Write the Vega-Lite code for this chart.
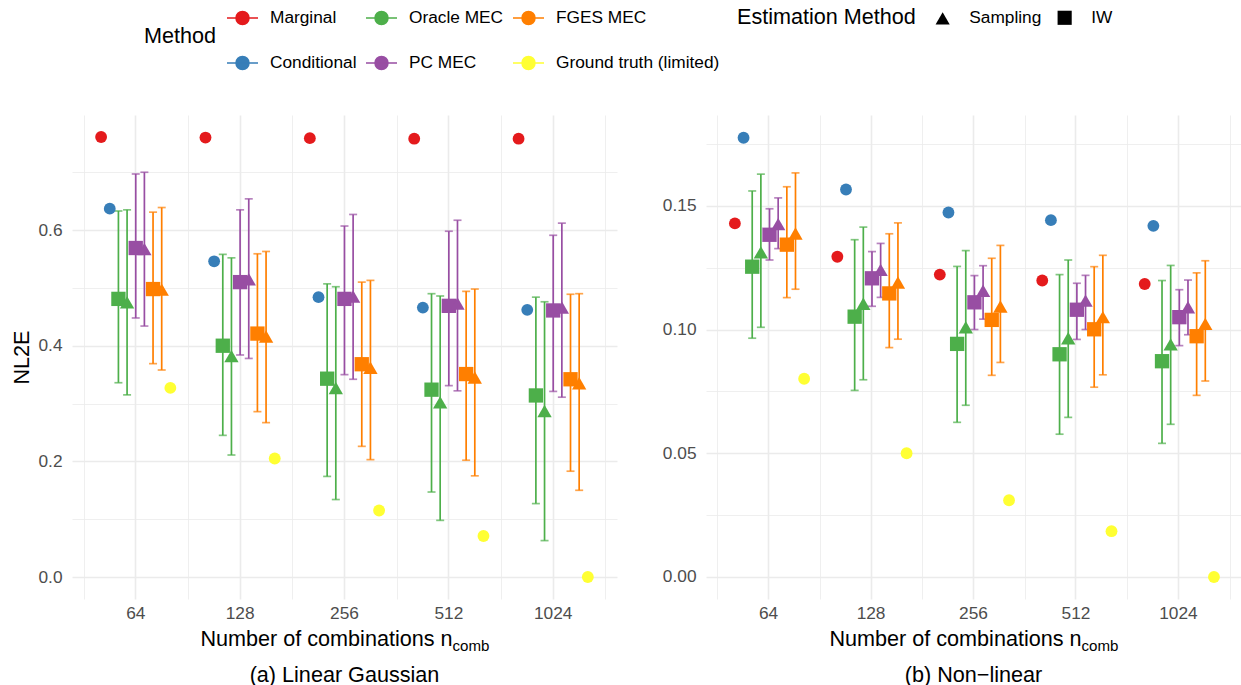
{
  "$schema": "https://vega.github.io/schema/vega-lite/v6.json",
  "padding": {"left": 11, "top": 1, "right": 0, "bottom": 0},
  "spacing": 45,
  "config": {
    "font": "Liberation Sans",
    "view": {"stroke": null},
    "axis": {"domain": false, "ticks": false, "gridColor": "#EBEBEB", "labelColor": "#4D4D4D", "labelFontSize": 17.3, "titleFontSize": 21.6, "titleFontWeight": "normal", "titleColor": "#000000"},
    "legend": {"labelFontSize": 17.3, "labelColor": "#000000", "titleFontSize": 21.6, "titleFontWeight": "normal", "titleColor": "#000000", "labelLimit": 400},
    "title": {"fontSize": 21.6, "fontWeight": "normal", "color": "#000000"}
  },
  "data": {"values": [
    {"setting":"lg","n":64,"method":"Marginal","series":"Marginal","value":0.761},
    {"setting":"lg","n":64,"method":"Conditional","series":"Conditional","value":0.637},
    {"setting":"lg","n":64,"method":"Oracle MEC","estimation":"IW","series":"Oracle MEC IW","value":0.481,"lower":0.336,"upper":0.633},
    {"setting":"lg","n":64,"method":"Oracle MEC","estimation":"Sampling","series":"Oracle MEC Sampling","value":0.475,"lower":0.315,"upper":0.635},
    {"setting":"lg","n":64,"method":"PC MEC","estimation":"IW","series":"PC MEC IW","value":0.569,"lower":0.448,"upper":0.697},
    {"setting":"lg","n":64,"method":"PC MEC","estimation":"Sampling","series":"PC MEC Sampling","value":0.567,"lower":0.434,"upper":0.700},
    {"setting":"lg","n":64,"method":"FGES MEC","estimation":"IW","series":"FGES MEC IW","value":0.498,"lower":0.369,"upper":0.631},
    {"setting":"lg","n":64,"method":"FGES MEC","estimation":"Sampling","series":"FGES MEC Sampling","value":0.497,"lower":0.358,"upper":0.639},
    {"setting":"lg","n":64,"method":"Ground truth (limited)","series":"Ground truth (limited)","value":0.327},
    {"setting":"lg","n":128,"method":"Marginal","series":"Marginal","value":0.760},
    {"setting":"lg","n":128,"method":"Conditional","series":"Conditional","value":0.546},
    {"setting":"lg","n":128,"method":"Oracle MEC","estimation":"IW","series":"Oracle MEC IW","value":0.400,"lower":0.245,"upper":0.558},
    {"setting":"lg","n":128,"method":"Oracle MEC","estimation":"Sampling","series":"Oracle MEC Sampling","value":0.382,"lower":0.211,"upper":0.552},
    {"setting":"lg","n":128,"method":"PC MEC","estimation":"IW","series":"PC MEC IW","value":0.510,"lower":0.384,"upper":0.635},
    {"setting":"lg","n":128,"method":"PC MEC","estimation":"Sampling","series":"PC MEC Sampling","value":0.515,"lower":0.378,"upper":0.654},
    {"setting":"lg","n":128,"method":"FGES MEC","estimation":"IW","series":"FGES MEC IW","value":0.421,"lower":0.286,"upper":0.559},
    {"setting":"lg","n":128,"method":"FGES MEC","estimation":"Sampling","series":"FGES MEC Sampling","value":0.416,"lower":0.267,"upper":0.563},
    {"setting":"lg","n":128,"method":"Ground truth (limited)","series":"Ground truth (limited)","value":0.205},
    {"setting":"lg","n":256,"method":"Marginal","series":"Marginal","value":0.759},
    {"setting":"lg","n":256,"method":"Conditional","series":"Conditional","value":0.484},
    {"setting":"lg","n":256,"method":"Oracle MEC","estimation":"IW","series":"Oracle MEC IW","value":0.343,"lower":0.174,"upper":0.507},
    {"setting":"lg","n":256,"method":"Oracle MEC","estimation":"Sampling","series":"Oracle MEC Sampling","value":0.327,"lower":0.134,"upper":0.502},
    {"setting":"lg","n":256,"method":"PC MEC","estimation":"IW","series":"PC MEC IW","value":0.481,"lower":0.350,"upper":0.607},
    {"setting":"lg","n":256,"method":"PC MEC","estimation":"Sampling","series":"PC MEC Sampling","value":0.485,"lower":0.342,"upper":0.627},
    {"setting":"lg","n":256,"method":"FGES MEC","estimation":"IW","series":"FGES MEC IW","value":0.368,"lower":0.226,"upper":0.510},
    {"setting":"lg","n":256,"method":"FGES MEC","estimation":"Sampling","series":"FGES MEC Sampling","value":0.362,"lower":0.203,"upper":0.513},
    {"setting":"lg","n":256,"method":"Ground truth (limited)","series":"Ground truth (limited)","value":0.115},
    {"setting":"lg","n":512,"method":"Marginal","series":"Marginal","value":0.758},
    {"setting":"lg","n":512,"method":"Conditional","series":"Conditional","value":0.466},
    {"setting":"lg","n":512,"method":"Oracle MEC","estimation":"IW","series":"Oracle MEC IW","value":0.324,"lower":0.147,"upper":0.490},
    {"setting":"lg","n":512,"method":"Oracle MEC","estimation":"Sampling","series":"Oracle MEC Sampling","value":0.302,"lower":0.098,"upper":0.486},
    {"setting":"lg","n":512,"method":"PC MEC","estimation":"IW","series":"PC MEC IW","value":0.469,"lower":0.331,"upper":0.598},
    {"setting":"lg","n":512,"method":"PC MEC","estimation":"Sampling","series":"PC MEC Sampling","value":0.473,"lower":0.322,"upper":0.617},
    {"setting":"lg","n":512,"method":"FGES MEC","estimation":"IW","series":"FGES MEC IW","value":0.351,"lower":0.202,"upper":0.494},
    {"setting":"lg","n":512,"method":"FGES MEC","estimation":"Sampling","series":"FGES MEC Sampling","value":0.345,"lower":0.175,"upper":0.498},
    {"setting":"lg","n":512,"method":"Ground truth (limited)","series":"Ground truth (limited)","value":0.071},
    {"setting":"lg","n":1024,"method":"Marginal","series":"Marginal","value":0.758},
    {"setting":"lg","n":1024,"method":"Conditional","series":"Conditional","value":0.462},
    {"setting":"lg","n":1024,"method":"Oracle MEC","estimation":"IW","series":"Oracle MEC IW","value":0.314,"lower":0.127,"upper":0.484},
    {"setting":"lg","n":1024,"method":"Oracle MEC","estimation":"Sampling","series":"Oracle MEC Sampling","value":0.287,"lower":0.063,"upper":0.476},
    {"setting":"lg","n":1024,"method":"PC MEC","estimation":"IW","series":"PC MEC IW","value":0.461,"lower":0.321,"upper":0.591},
    {"setting":"lg","n":1024,"method":"PC MEC","estimation":"Sampling","series":"PC MEC Sampling","value":0.466,"lower":0.311,"upper":0.612},
    {"setting":"lg","n":1024,"method":"FGES MEC","estimation":"IW","series":"FGES MEC IW","value":0.342,"lower":0.183,"upper":0.489},
    {"setting":"lg","n":1024,"method":"FGES MEC","estimation":"Sampling","series":"FGES MEC Sampling","value":0.335,"lower":0.150,"upper":0.490},
    {"setting":"lg","n":1024,"method":"Ground truth (limited)","series":"Ground truth (limited)","value":0.000},
    {"setting":"nl","n":64,"method":"Marginal","series":"Marginal","value":0.1429},
    {"setting":"nl","n":64,"method":"Conditional","series":"Conditional","value":0.1775},
    {"setting":"nl","n":64,"method":"Oracle MEC","estimation":"IW","series":"Oracle MEC IW","value":0.1254,"lower":0.0965,"upper":0.156},
    {"setting":"nl","n":64,"method":"Oracle MEC","estimation":"Sampling","series":"Oracle MEC Sampling","value":0.1312,"lower":0.1009,"upper":0.1628},
    {"setting":"nl","n":64,"method":"PC MEC","estimation":"IW","series":"PC MEC IW","value":0.1383,"lower":0.1281,"upper":0.1488},
    {"setting":"nl","n":64,"method":"PC MEC","estimation":"Sampling","series":"PC MEC Sampling","value":0.1426,"lower":0.1327,"upper":0.1532},
    {"setting":"nl","n":64,"method":"FGES MEC","estimation":"IW","series":"FGES MEC IW","value":0.1343,"lower":0.1129,"upper":0.1577},
    {"setting":"nl","n":64,"method":"FGES MEC","estimation":"Sampling","series":"FGES MEC Sampling","value":0.1388,"lower":0.1163,"upper":0.1633},
    {"setting":"nl","n":64,"method":"Ground truth (limited)","series":"Ground truth (limited)","value":0.0801},
    {"setting":"nl","n":128,"method":"Marginal","series":"Marginal","value":0.1294},
    {"setting":"nl","n":128,"method":"Conditional","series":"Conditional","value":0.1566},
    {"setting":"nl","n":128,"method":"Oracle MEC","estimation":"IW","series":"Oracle MEC IW","value":0.1052,"lower":0.0754,"upper":0.1363},
    {"setting":"nl","n":128,"method":"Oracle MEC","estimation":"Sampling","series":"Oracle MEC Sampling","value":0.1104,"lower":0.0797,"upper":0.1414},
    {"setting":"nl","n":128,"method":"PC MEC","estimation":"IW","series":"PC MEC IW","value":0.1207,"lower":0.1094,"upper":0.1315},
    {"setting":"nl","n":128,"method":"PC MEC","estimation":"Sampling","series":"PC MEC Sampling","value":0.1241,"lower":0.113,"upper":0.1348},
    {"setting":"nl","n":128,"method":"FGES MEC","estimation":"IW","series":"FGES MEC IW","value":0.1146,"lower":0.0927,"upper":0.1387},
    {"setting":"nl","n":128,"method":"FGES MEC","estimation":"Sampling","series":"FGES MEC Sampling","value":0.119,"lower":0.0961,"upper":0.1431},
    {"setting":"nl","n":128,"method":"Ground truth (limited)","series":"Ground truth (limited)","value":0.050},
    {"setting":"nl","n":256,"method":"Marginal","series":"Marginal","value":0.1222},
    {"setting":"nl","n":256,"method":"Conditional","series":"Conditional","value":0.1473},
    {"setting":"nl","n":256,"method":"Oracle MEC","estimation":"IW","series":"Oracle MEC IW","value":0.0942,"lower":0.0625,"upper":0.1255},
    {"setting":"nl","n":256,"method":"Oracle MEC","estimation":"Sampling","series":"Oracle MEC Sampling","value":0.1009,"lower":0.0694,"upper":0.1319},
    {"setting":"nl","n":256,"method":"PC MEC","estimation":"IW","series":"PC MEC IW","value":0.111,"lower":0.100,"upper":0.1218},
    {"setting":"nl","n":256,"method":"PC MEC","estimation":"Sampling","series":"PC MEC Sampling","value":0.1157,"lower":0.1042,"upper":0.1258},
    {"setting":"nl","n":256,"method":"FGES MEC","estimation":"IW","series":"FGES MEC IW","value":0.1039,"lower":0.0815,"upper":0.1288},
    {"setting":"nl","n":256,"method":"FGES MEC","estimation":"Sampling","series":"FGES MEC Sampling","value":0.1093,"lower":0.0867,"upper":0.134},
    {"setting":"nl","n":256,"method":"Ground truth (limited)","series":"Ground truth (limited)","value":0.031},
    {"setting":"nl","n":512,"method":"Marginal","series":"Marginal","value":0.1198},
    {"setting":"nl","n":512,"method":"Conditional","series":"Conditional","value":0.1442},
    {"setting":"nl","n":512,"method":"Oracle MEC","estimation":"IW","series":"Oracle MEC IW","value":0.090,"lower":0.0577,"upper":0.1222},
    {"setting":"nl","n":512,"method":"Oracle MEC","estimation":"Sampling","series":"Oracle MEC Sampling","value":0.0965,"lower":0.0645,"upper":0.1281},
    {"setting":"nl","n":512,"method":"PC MEC","estimation":"IW","series":"PC MEC IW","value":0.108,"lower":0.096,"upper":0.1187},
    {"setting":"nl","n":512,"method":"PC MEC","estimation":"Sampling","series":"PC MEC Sampling","value":0.1117,"lower":0.100,"upper":0.1219},
    {"setting":"nl","n":512,"method":"FGES MEC","estimation":"IW","series":"FGES MEC IW","value":0.1001,"lower":0.0767,"upper":0.1254},
    {"setting":"nl","n":512,"method":"FGES MEC","estimation":"Sampling","series":"FGES MEC Sampling","value":0.105,"lower":0.0817,"upper":0.130},
    {"setting":"nl","n":512,"method":"Ground truth (limited)","series":"Ground truth (limited)","value":0.0185},
    {"setting":"nl","n":1024,"method":"Marginal","series":"Marginal","value":0.1184},
    {"setting":"nl","n":1024,"method":"Conditional","series":"Conditional","value":0.1419},
    {"setting":"nl","n":1024,"method":"Oracle MEC","estimation":"IW","series":"Oracle MEC IW","value":0.0872,"lower":0.054,"upper":0.1198},
    {"setting":"nl","n":1024,"method":"Oracle MEC","estimation":"Sampling","series":"Oracle MEC Sampling","value":0.094,"lower":0.0617,"upper":0.1259},
    {"setting":"nl","n":1024,"method":"PC MEC","estimation":"IW","series":"PC MEC IW","value":0.105,"lower":0.0935,"upper":0.1161},
    {"setting":"nl","n":1024,"method":"PC MEC","estimation":"Sampling","series":"PC MEC Sampling","value":0.109,"lower":0.0979,"upper":0.12},
    {"setting":"nl","n":1024,"method":"FGES MEC","estimation":"IW","series":"FGES MEC IW","value":0.0973,"lower":0.0734,"upper":0.1229},
    {"setting":"nl","n":1024,"method":"FGES MEC","estimation":"Sampling","series":"FGES MEC Sampling","value":0.1023,"lower":0.0792,"upper":0.1278},
    {"setting":"nl","n":1024,"method":"Ground truth (limited)","series":"Ground truth (limited)","value":0.000}
  ]},
  "hconcat": [
    {
      "width": 545, "height": 484,
      "transform": [{"filter": "datum.setting === 'lg'"}],
      "title": {"text": "(a) Linear Gaussian", "orient": "bottom", "frame": "group", "anchor": "middle", "offset": 12},
      "encoding": {
        "xOffset": {"field": "series", "type": "nominal", "scale": {"domain": ["Marginal","Conditional","Oracle MEC IW","Oracle MEC Sampling","PC MEC IW","PC MEC Sampling","FGES MEC IW","FGES MEC Sampling","Ground truth (limited)"], "paddingInner": 0, "paddingOuter": 0, "range": [13.2, 91.1]}},
        "color": {"field": "method", "type": "nominal", "scale": {"domain": ["Marginal","Oracle MEC","FGES MEC","Conditional","PC MEC","Ground truth (limited)"], "range": ["#E41A1C","#4DAF4A","#FF7F00","#377EB8","#984EA3","#FFFF33"]}, "legend": {"title": "Method", "orient": "none", "legendX": 72, "legendY": -114, "titleOrient": "left", "titleAnchor": "middle", "titleBaseline": "middle", "titlePadding": 9, "columns": 3, "direction": "horizontal", "symbolType": "M-1,0L1,0M0.42,0A0.42,0.42,0,1,1,-0.42,0A0.42,0.42,0,1,1,0.42,0Z", "symbolSize": 961, "symbolStrokeWidth": 1.5, "labelOffset": 11, "columnPadding": 6, "rowPadding": 18.5, "encode": {"symbols": {"update": {"shape": {"value": "M-1,0L1,0M0.42,0A0.42,0.42,0,1,1,-0.42,0A0.42,0.42,0,1,1,0.42,0Z"}, "size": {"value": 961}, "fill": {"scale": "color", "field": "value"}, "stroke": {"scale": "color", "field": "value"}, "strokeWidth": {"value": 1.5}, "opacity": {"value": 1}}}}}}
      },
      "layer": [
        {
          "transform": [{"filter": "datum.upper != null"}],
          "mark": {"type": "rule", "strokeWidth": 1.7},
          "encoding": {
            "x": {"field": "n", "type": "ordinal", "title": "Number of combinations n", "scale": {"paddingInner": 0, "paddingOuter": 0.111}, "axis": {"grid": true, "gridWidth": 1.6, "tickBand": "center", "labelPadding": 5, "labelAngle": 0, "titleX": 128, "titleY": 46, "titleAlign": "left", "titleBaseline": "alphabetic"}},
            "y": {"field": "lower", "type": "quantitative", "title": "NL2E", "scale": {"domain": [-0.038, 0.799], "nice": false, "zero": false}, "axis": {"values": [0,0.1,0.2,0.3,0.4,0.5,0.6,0.7], "labelExpr": "round(datum.value*10)%2==0 ? format(datum.value,'.1f') : ''", "grid": true, "gridWidth": {"condition": {"test": "round(datum.value*10)%2==0", "value": 1.6}, "value": 0.8}, "labelPadding": 10, "titlePadding": 4.5}},
            "y2": {"field": "upper"}
          }
        },
        {
          "transform": [{"filter": "datum.upper != null"}],
          "mark": {"type": "tick", "size": 8, "thickness": 1.7},
          "encoding": {
            "x": {"field": "n", "type": "ordinal", "scale": {"paddingInner": 0, "paddingOuter": 0.111}, "axis": null},
            "y": {"field": "upper", "type": "quantitative", "title": "NL2E", "scale": {"domain": [-0.038, 0.799], "nice": false, "zero": false}}
          }
        },
        {
          "transform": [{"filter": "datum.upper != null"}],
          "mark": {"type": "tick", "size": 8, "thickness": 1.7},
          "encoding": {
            "x": {"field": "n", "type": "ordinal", "scale": {"paddingInner": 0, "paddingOuter": 0.111}, "axis": null},
            "y": {"field": "lower", "type": "quantitative", "title": "NL2E", "scale": {"domain": [-0.038, 0.799], "nice": false, "zero": false}}
          }
        },
        {
          "transform": [{"filter": "!datum.estimation"}],
          "mark": {"type": "point", "shape": "circle", "filled": true, "size": 140, "opacity": 1},
          "encoding": {
            "x": {"field": "n", "type": "ordinal", "title": "comb", "scale": {"paddingInner": 0, "paddingOuter": 0.111}, "axis": {"orient": "top", "grid": true, "gridWidth": 0.8, "tickBand": "extent", "labels": false, "ticks": false, "domain": false, "titleFontSize": 15.1, "titleX": 380, "titleY": 535, "titleAlign": "left", "titleBaseline": "alphabetic", "titleAngle": 0}},
            "y": {"field": "value", "type": "quantitative", "title": "NL2E", "scale": {"domain": [-0.038, 0.799], "nice": false, "zero": false}}
          }
        },
        {
          "transform": [{"filter": "datum.estimation"}],
          "mark": {"type": "point", "filled": true, "opacity": 1, "size": 205},
          "encoding": {
            "x": {"field": "n", "type": "ordinal", "scale": {"paddingInner": 0, "paddingOuter": 0.111}, "axis": null},
            "y": {"field": "value", "type": "quantitative", "title": "NL2E", "scale": {"domain": [-0.038, 0.799], "nice": false, "zero": false}},
            "shape": {"field": "estimation", "type": "nominal", "scale": {"domain": ["Sampling","IW"], "range": ["triangle-up","square"]}, "legend": {"title": "Estimation Method", "orient": "none", "legendX": 665, "legendY": -106, "titleOrient": "left", "titlePadding": 18, "direction": "horizontal", "symbolSize": 200, "labelOffset": 18, "columnPadding": 12, "encode": {"symbols": {"update": {"fill": {"value": "#000000"}, "stroke": {"value": "#000000"}, "strokeWidth": {"value": 0}, "opacity": {"value": 1}}}}}}
          }
        }
      ],
      "resolve": {"axis": {"x": "independent"}}
    },
    {
      "width": 535, "height": 484,
      "transform": [{"filter": "datum.setting === 'nl'"}],
      "title": {"text": "(b) Non\u2212linear", "orient": "bottom", "frame": "group", "anchor": "middle", "offset": 12},
      "encoding": {
        "xOffset": {"field": "series", "type": "nominal", "scale": {"domain": ["Marginal","Conditional","Oracle MEC IW","Oracle MEC Sampling","PC MEC IW","PC MEC Sampling","FGES MEC IW","FGES MEC Sampling","Ground truth (limited)"], "paddingInner": 0, "paddingOuter": 0, "range": [12.4, 90.1]}},
        "color": {"field": "method", "type": "nominal", "scale": {"domain": ["Marginal","Oracle MEC","FGES MEC","Conditional","PC MEC","Ground truth (limited)"], "range": ["#E41A1C","#4DAF4A","#FF7F00","#377EB8","#984EA3","#FFFF33"]}, "legend": {"title": "Method", "orient": "none", "legendX": 72, "legendY": -114, "titleOrient": "left", "titleAnchor": "middle", "titleBaseline": "middle", "titlePadding": 9, "columns": 3, "direction": "horizontal", "symbolType": "M-1,0L1,0M0.42,0A0.42,0.42,0,1,1,-0.42,0A0.42,0.42,0,1,1,0.42,0Z", "symbolSize": 961, "symbolStrokeWidth": 1.5, "labelOffset": 11, "columnPadding": 6, "rowPadding": 18.5, "encode": {"symbols": {"update": {"shape": {"value": "M-1,0L1,0M0.42,0A0.42,0.42,0,1,1,-0.42,0A0.42,0.42,0,1,1,0.42,0Z"}, "size": {"value": 961}, "fill": {"scale": "color", "field": "value"}, "stroke": {"scale": "color", "field": "value"}, "strokeWidth": {"value": 1.5}, "opacity": {"value": 1}}}}}}
      },
      "layer": [
        {
          "transform": [{"filter": "datum.upper != null"}],
          "mark": {"type": "rule", "strokeWidth": 1.7},
          "encoding": {
            "x": {"field": "n", "type": "ordinal", "title": "Number of combinations n", "scale": {"paddingInner": 0, "paddingOuter": 0.111}, "axis": {"grid": true, "gridWidth": 1.6, "tickBand": "center", "labelPadding": 5, "labelAngle": 0, "titleX": 123, "titleY": 46, "titleAlign": "left", "titleBaseline": "alphabetic"}},
            "y": {"field": "lower", "type": "quantitative", "title": null, "scale": {"domain": [-0.0089, 0.1867], "nice": false, "zero": false}, "axis": {"values": [0,0.025,0.05,0.075,0.1,0.125,0.15,0.175], "labelExpr": "round(datum.value*40)%2==0 ? format(datum.value,'.2f') : ''", "grid": true, "gridWidth": {"condition": {"test": "round(datum.value*40)%2==0", "value": 1.6}, "value": 0.8}, "labelPadding": 10}},
            "y2": {"field": "upper"}
          }
        },
        {
          "transform": [{"filter": "datum.upper != null"}],
          "mark": {"type": "tick", "size": 8, "thickness": 1.7},
          "encoding": {
            "x": {"field": "n", "type": "ordinal", "scale": {"paddingInner": 0, "paddingOuter": 0.111}, "axis": null},
            "y": {"field": "upper", "type": "quantitative", "title": null, "scale": {"domain": [-0.0089, 0.1867], "nice": false, "zero": false}}
          }
        },
        {
          "transform": [{"filter": "datum.upper != null"}],
          "mark": {"type": "tick", "size": 8, "thickness": 1.7},
          "encoding": {
            "x": {"field": "n", "type": "ordinal", "scale": {"paddingInner": 0, "paddingOuter": 0.111}, "axis": null},
            "y": {"field": "lower", "type": "quantitative", "title": null, "scale": {"domain": [-0.0089, 0.1867], "nice": false, "zero": false}}
          }
        },
        {
          "transform": [{"filter": "!datum.estimation"}],
          "mark": {"type": "point", "shape": "circle", "filled": true, "size": 140, "opacity": 1},
          "encoding": {
            "x": {"field": "n", "type": "ordinal", "title": "comb", "scale": {"paddingInner": 0, "paddingOuter": 0.111}, "axis": {"orient": "top", "grid": true, "gridWidth": 0.8, "tickBand": "extent", "labels": false, "ticks": false, "domain": false, "titleFontSize": 15.1, "titleX": 375, "titleY": 535, "titleAlign": "left", "titleBaseline": "alphabetic", "titleAngle": 0}},
            "y": {"field": "value", "type": "quantitative", "title": null, "scale": {"domain": [-0.0089, 0.1867], "nice": false, "zero": false}}
          }
        },
        {
          "transform": [{"filter": "datum.estimation"}],
          "mark": {"type": "point", "filled": true, "opacity": 1, "size": 205},
          "encoding": {
            "x": {"field": "n", "type": "ordinal", "scale": {"paddingInner": 0, "paddingOuter": 0.111}, "axis": null},
            "y": {"field": "value", "type": "quantitative", "title": null, "scale": {"domain": [-0.0089, 0.1867], "nice": false, "zero": false}},
            "shape": {"field": "estimation", "type": "nominal", "scale": {"domain": ["Sampling","IW"], "range": ["triangle-up","square"]}, "legend": {"title": "Estimation Method", "orient": "none", "legendX": 665, "legendY": -106, "titleOrient": "left", "titlePadding": 18, "direction": "horizontal", "symbolSize": 200, "labelOffset": 18, "columnPadding": 12, "encode": {"symbols": {"update": {"fill": {"value": "#000000"}, "stroke": {"value": "#000000"}, "strokeWidth": {"value": 0}, "opacity": {"value": 1}}}}}}
          }
        }
      ],
      "resolve": {"axis": {"x": "independent"}}
    }
  ]
}
